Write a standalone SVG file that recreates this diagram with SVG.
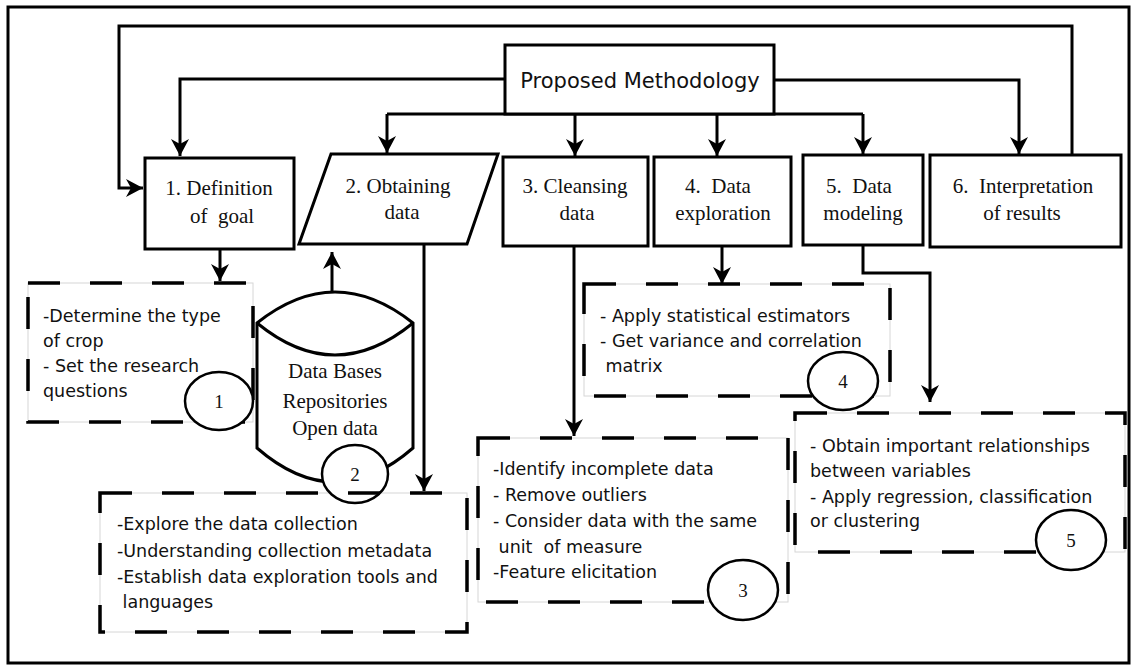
<svg xmlns="http://www.w3.org/2000/svg" width="1136" height="666" viewBox="0 0 1136 666">
<style>
.box{fill:#fff;stroke:#000;stroke-width:3}
.ln{fill:none;stroke:#000;stroke-width:3}
.dash{fill:none;stroke:#000;stroke-width:3.5;stroke-dasharray:32 30}
.thin{fill:#fff;stroke:#d6d6d6;stroke-width:1}
.ov{fill:#fff;stroke:#000;stroke-width:2.5}
.ser{font-family:"Liberation Serif","Times New Roman",serif;font-size:21px;fill:#111;text-anchor:middle;white-space:pre}
.num{font-family:"Liberation Serif","Times New Roman",serif;font-size:19px;fill:#111;text-anchor:middle}
.sans{font-family:"DejaVu Sans",Verdana,sans-serif;font-size:17.5px;fill:#111;white-space:pre}
.title{font-family:"DejaVu Sans",Verdana,sans-serif;font-size:21px;fill:#111;text-anchor:middle}
</style>
<defs>
<marker id="ah" markerUnits="userSpaceOnUse" markerWidth="20" markerHeight="20" refX="17" refY="9" orient="auto">
<path d="M0,0 L17,9 L0,18 L5,9 Z" fill="#000"/>
</marker>
</defs>
<rect x="8" y="7" width="1121" height="656" fill="#fff" stroke="#000" stroke-width="3"/>

<g id="connectors">
<polyline class="ln" points="1072,155 1072,26 119,26 119,188 143,188" marker-end="url(#ah)"/>
<polyline class="ln" points="505,79 180,79 180,156" marker-end="url(#ah)"/>
<polyline class="ln" points="774,80 1019,80 1019,154" marker-end="url(#ah)"/>
<polyline class="ln" points="387,114 863,114"/>
<line class="ln" x1="387" y1="114" x2="387" y2="153" marker-end="url(#ah)"/>
<line class="ln" x1="575" y1="114" x2="575" y2="156" marker-end="url(#ah)"/>
<line class="ln" x1="717" y1="114" x2="717" y2="156" marker-end="url(#ah)"/>
<polyline class="ln" points="863,114 863,154" marker-end="url(#ah)"/>
<line class="ln" x1="220" y1="249" x2="220" y2="281" marker-end="url(#ah)"/>
<line class="ln" x1="332" y1="292" x2="332" y2="252" marker-end="url(#ah)"/>
<line class="ln" x1="424" y1="244" x2="424" y2="491" marker-end="url(#ah)"/>
<line class="ln" x1="574" y1="246" x2="574" y2="436" marker-end="url(#ah)"/>
<line class="ln" x1="722" y1="246" x2="722" y2="284" marker-end="url(#ah)"/>
<polyline class="ln" points="863,245 863,273 930,273 930,402" marker-end="url(#ah)"/>
</g>

<g id="proposed">
<rect class="box" x="505" y="45" width="269" height="69"/>
<text class="title" x="640" y="88">Proposed Methodology</text>
</g>

<g id="step1">
<rect class="box" x="145" y="158" width="149" height="91"/>
<text class="ser" x="219" y="195">1. Definition</text>
<text class="ser" x="222" y="223">of  goal</text>
</g>
<g id="step2">
<polygon class="box" points="331,154 498,154 467,244 299,244"/>
<text class="ser" x="398" y="193">2. Obtaining</text>
<text class="ser" x="402" y="219">data</text>
</g>
<g id="step3">
<rect class="box" x="503" y="157" width="145" height="89"/>
<text class="ser" x="575" y="193">3. Cleansing</text>
<text class="ser" x="577" y="220">data</text>
</g>
<g id="step4">
<rect class="box" x="654" y="157" width="137" height="89"/>
<text class="ser" x="718" y="193">4.  Data</text>
<text class="ser" x="723" y="220">exploration</text>
</g>
<g id="step5">
<rect class="box" x="803" y="155" width="120" height="90"/>
<text class="ser" x="859" y="193">5.  Data</text>
<text class="ser" x="863" y="220">modeling</text>
</g>
<g id="step6">
<rect class="box" x="930" y="155" width="191" height="92"/>
<text class="ser" x="1023" y="193">6.  Interpretation</text>
<text class="ser" x="1022" y="220">of results</text>
</g>

<g id="note1">
<rect class="thin" x="28" y="283" width="225" height="139"/>
<rect class="dash" x="28" y="283" width="225" height="139"/>
<ellipse class="ov" cx="219" cy="401" rx="34" ry="29"/>
<text class="num" x="219" y="408">1</text>
<text class="sans" x="43" y="322">-Determine the type</text>
<text class="sans" x="43" y="347">of crop</text>
<text class="sans" x="43" y="372">- Set the research</text>
<text class="sans" x="43" y="397">questions</text>
</g>

<g id="database">
<path class="box" d="M257,323 V448 Q335,516 413,448 V323 Q335,261 257,323 Z"/>
<path class="ln" d="M257,323 Q335,387 413,323"/>
<text class="ser" x="335" y="378">Data Bases</text>
<text class="ser" x="335" y="408">Repositories</text>
<text class="ser" x="335" y="435">Open data</text>
</g>

<g id="note2">
<rect class="thin" x="100" y="493" width="367" height="139" fill-opacity="0"/>
<ellipse class="ov" cx="355" cy="474" rx="33" ry="29"/>
<text class="num" x="355" y="481">2</text>
<rect class="dash" x="100" y="493" width="367" height="139"/>
<text class="sans" x="117" y="530">-Explore the data collection</text>
<text class="sans" x="117" y="557">-Understanding collection metadata</text>
<text class="sans" x="117" y="583">-Establish data exploration tools and</text>
<text class="sans" x="117" y="608"> languages</text>
</g>

<g id="note4">
<rect class="thin" x="584" y="284" width="306" height="112"/>
<rect class="dash" x="584" y="284" width="306" height="112"/>
<text class="sans" x="600" y="322">- Apply statistical estimators</text>
<text class="sans" x="600" y="347">- Get variance and correlation</text>
<text class="sans" x="600" y="372"> matrix</text>
<ellipse class="ov" cx="843" cy="381" rx="35" ry="29"/>
<text class="num" x="843" y="388">4</text>
</g>

<g id="note3">
<rect class="thin" x="478" y="438" width="310" height="164"/>
<rect class="dash" x="478" y="438" width="310" height="164"/>
<text class="sans" x="493" y="475">-Identify incomplete data</text>
<text class="sans" x="493" y="501">- Remove outliers</text>
<text class="sans" x="493" y="527">- Consider data with the same</text>
<text class="sans" x="493" y="553"> unit  of measure</text>
<text class="sans" x="493" y="578">-Feature elicitation</text>
<ellipse class="ov" cx="743" cy="590" rx="35" ry="30"/>
<text class="num" x="743" y="597">3</text>
</g>

<g id="note5">
<rect class="thin" x="795" y="413" width="330" height="139"/>
<rect class="dash" x="795" y="413" width="330" height="139"/>
<text class="sans" x="810" y="452">- Obtain important relationships</text>
<text class="sans" x="810" y="477">between variables</text>
<text class="sans" x="810" y="503">- Apply regression, classification</text>
<text class="sans" x="810" y="527">or clustering</text>
<ellipse class="ov" cx="1071" cy="540" rx="35" ry="30"/>
<text class="num" x="1071" y="547">5</text>
</g>
</svg>
